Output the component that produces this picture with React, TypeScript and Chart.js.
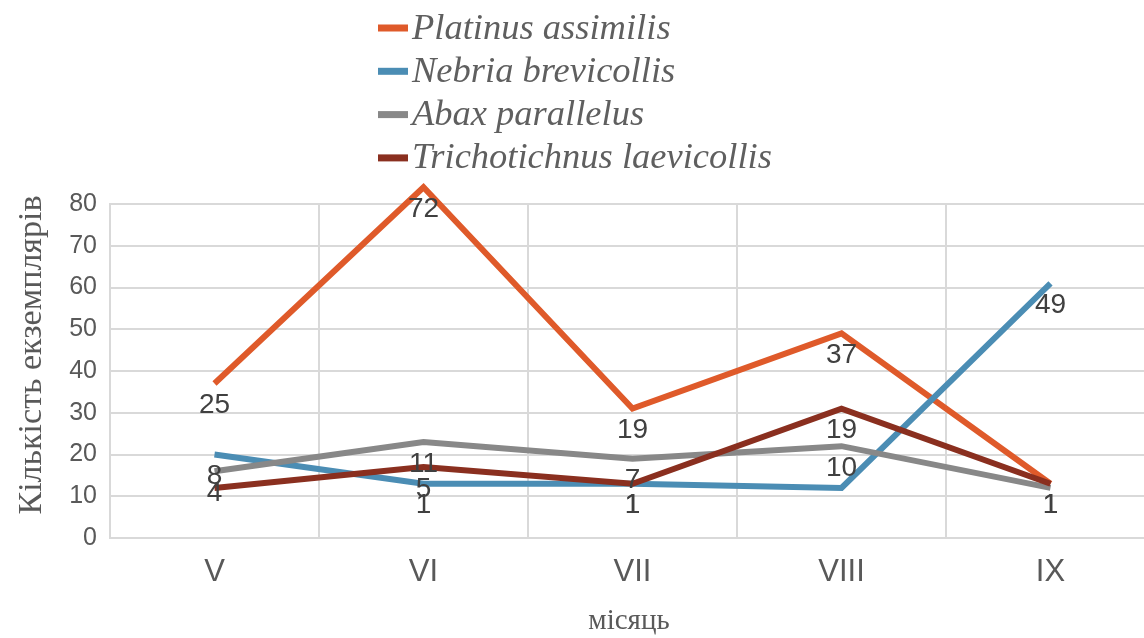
import React, { useEffect, useRef } from "react";
import { Chart, registerables } from "chart.js";

Chart.register(...registerables);

const categories = ["V", "VI", "VII", "VIII", "IX"];
const seriesNames = [
  "Platinus assimilis",
  "Nebria brevicollis",
  "Abax parallelus",
  "Trichotichnus laevicollis",
];
const platinus = [37, 84, 31, 49, 13];
const nebria = [20, 13, 13, 12, 61];
const abax = [16, 23, 19, 22, 12];
const trichotichnus = [12, 17, 13, 31, 13];

const platinusLabels = ["25", "72", "19", "37", "1"];
const nebriaLabels = ["8", "1", "1", "", "49"];
const abaxLabels = ["4", "11", "7", "10", ""];
const trichotichnusLabels = ["", "5", "1", "19", "1"];

const yTicks = [0, 10, 20, 30, 40, 50, 60, 70, 80];
const yTitle = "Кількість екземплярів";
const xTitle = "місяць";

const colors = ["#DF5A2A", "#4B8DB4", "#888888", "#8A2F1F"];

const CANVAS_W = 1170;
const CANVAS_H = 638;

export default function App() {
  const ref = useRef<HTMLCanvasElement | null>(null);

  useEffect(() => {
    document.body.style.margin = "0";
    const canvas = ref.current;
    if (!canvas) return;
    const values = [platinus, nebria, abax, trichotichnus];
    const labelSets = [platinusLabels, nebriaLabels, abaxLabels, trichotichnusLabels];

    const decor = {
      id: "decor",
      afterDatasetsDraw(chart: any) {
        const ctx = chart.ctx;
        ctx.save();
        ctx.font = "28px 'Liberation Sans', Arial, sans-serif";
        ctx.fillStyle = "#404040";
        ctx.textAlign = "center";
        ctx.textBaseline = "top";
        chart.data.datasets.forEach((ds: any, i: number) => {
          const meta = chart.getDatasetMeta(i);
          const labs = labelSets[i];
          meta.data.forEach((pt: any, j: number) => {
            const t = labs[j];
            if (t) ctx.fillText(t, pt.x, pt.y + 8);
          });
        });
        ctx.restore();
      },
      afterDraw(chart: any) {
        const ctx = chart.ctx;
        ctx.save();
        // legend
        const lx = 378;
        const ly0 = 28;
        const step = 43.3;
        ctx.font = "italic 36.5px 'Liberation Serif', 'Times New Roman', serif";
        ctx.textAlign = "left";
        ctx.textBaseline = "middle";
        seriesNames.forEach((name, i) => {
          const y = ly0 + i * step;
          ctx.fillStyle = colors[i];
          ctx.fillRect(lx, y - 3.5, 30, 7);
          ctx.fillStyle = "#5f5f5f";
          ctx.fillText(name, lx + 34, y + 1);
        });
        // axis titles
        ctx.fillStyle = "#595959";
        ctx.font = "29px 'Liberation Serif', 'Times New Roman', serif";
        ctx.textAlign = "center";
        ctx.textBaseline = "middle";
        ctx.fillText(xTitle, 629, 621);
        ctx.font = "34px 'Liberation Serif', 'Times New Roman', serif";
        ctx.translate(32, 355);
        ctx.rotate(-Math.PI / 2);
        ctx.fillText(yTitle, 0, 0);
        ctx.restore();
      },
    };

    const chart = new Chart(canvas, {
      type: "line",
      data: {
        labels: categories,
        datasets: values.map((v, i) => ({
          label: seriesNames[i],
          data: v,
          borderColor: colors[i],
          backgroundColor: colors[i],
          borderWidth: 6,
          pointRadius: 0,
          tension: 0,
          clip: false as any,
          order: 3 - i,
          borderJoinStyle: "miter" as const,
        })),
      },
      options: {
        responsive: false,
        animation: false,
        layout: { padding: { top: 204, right: CANVAS_W - 1155, left: 0, bottom: 0 } },
        plugins: {
          legend: { display: false },
          tooltip: { enabled: false },
        },
        scales: {
          x: {
            offset: true,
            afterFit(scale: any) {
              scale.height = CANVAS_H - 538;
            },
            grid: {
              color: "#d9d9d9",
              lineWidth: 2,
              drawTicks: false,
              offset: true,
            },
            border: { color: "#d9d9d9", width: 2 },
            ticks: {
              color: "#595959",
              font: { family: "'Liberation Sans', Arial, sans-serif", size: 31 },
              padding: 16,
            },
          },
          y: {
            min: 0,
            max: 80,
            afterFit(scale: any) {
              scale.width = 110;
            },
            afterBuildTicks(scale: any) {
              scale.ticks = yTicks.map((v) => ({ value: v }));
            },
            grid: { color: "#d9d9d9", lineWidth: 2, drawTicks: false },
            border: { color: "#d9d9d9", width: 2 },
            ticks: {
              color: "#595959",
              font: { family: "'Liberation Sans', Arial, sans-serif", size: 25 },
              padding: 13,
            },
          },
        },
      },
      plugins: [decor],
    });
    return () => chart.destroy();
  }, []);

  return (
    <div
      style={{
        position: "fixed",
        left: 0,
        top: 0,
        width: 1144,
        height: 638,
        overflow: "hidden",
        background: "#fff",
      }}
    >
      <canvas ref={ref} width={CANVAS_W} height={CANVAS_H} style={{ display: "block" }} />
    </div>
  );
}
